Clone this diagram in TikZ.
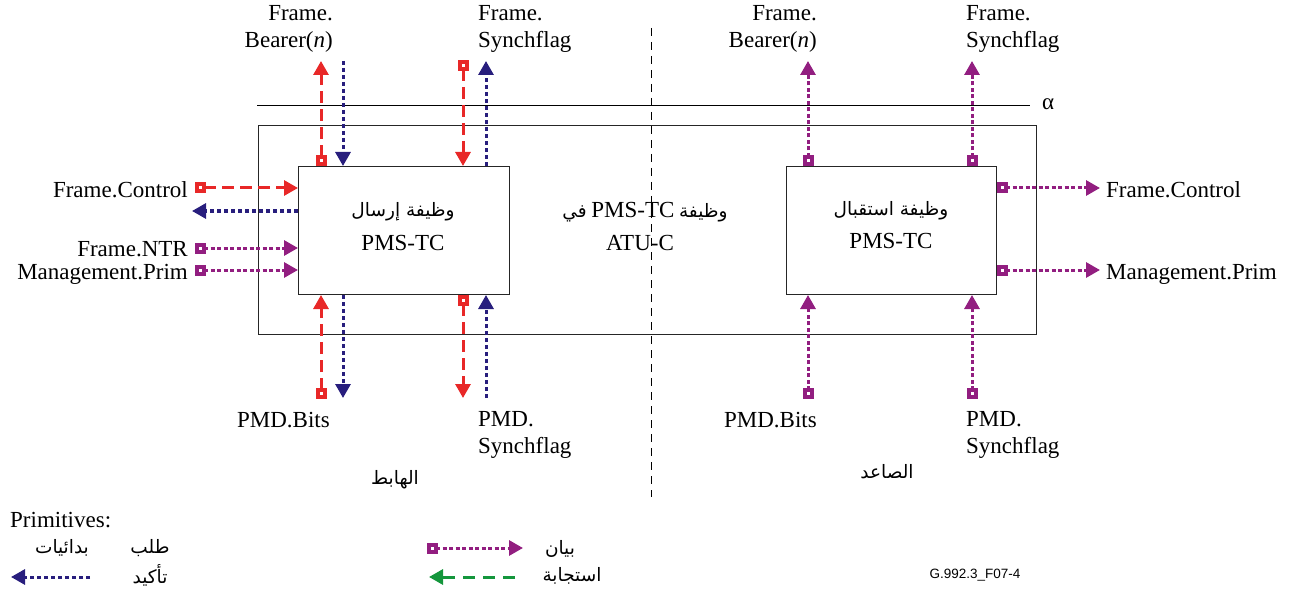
\documentclass[tikz,border=0pt]{standalone}
\usepackage{fontspec}
\setmainfont{Liberation Serif}
\newfontfamily\arabicfont[Script=Arabic]{DejaVu Sans}
\newfontfamily\figsans{Liberation Sans}
\TeXXeTstate=1
\usetikzlibrary{arrows.meta}

\definecolor{reqred}{RGB}{232,40,40}
\definecolor{cnfblue}{RGB}{40,30,125}
\definecolor{indpurple}{RGB}{146,30,128}
\definecolor{rspgreen}{RGB}{20,150,60}

\newcommand{\ar}[1]{{\arabicfont\beginR #1\endR}}

\tikzset{
  lbl/.style={font=\fontsize{23}{27}\selectfont, inner sep=0pt},
  arlbl/.style={font=\fontsize{18.5}{22}\selectfont, inner sep=0pt},
  fbox/.style={draw=black!85, line width=1pt, inner sep=0pt},
  sqtip/.tip={Square[open,length=11pt,width=11pt,line width=4pt,fill=white]},
  tritip/.tip={Triangle[length=14pt,width=15pt]},
  prim/.style={line width=3pt},
  req/.style={prim, draw=reqred, dash pattern=on 12pt off 6pt, sqtip-tritip},
  cnf/.style={prim, draw=cnfblue, dash pattern=on 4pt off 3pt, -tritip},
  ind/.style={prim, draw=indpurple, dash pattern=on 4pt off 2.5pt, sqtip-tritip},
  rsp/.style={prim, draw=rspgreen, dash pattern=on 12pt off 8pt, -tritip},
}

\begin{document}
\begin{tikzpicture}[x=1pt, y=-1pt]
\useasboundingbox (0,0) rectangle (1294,591);

% reference line alpha and the ATU-C frame
\coordinate (alphaL) at (257,106);
\coordinate (alphaR) at (1030,106);
\draw[line width=1pt] (alphaL) -- (alphaR);
\node[lbl, anchor=west] (alpha) at (1042,104) {α};

\node[fbox, anchor=north west, minimum width=778pt, minimum height=209pt] (atu) at (258,125) {};

% split between downstream and upstream
\coordinate (splitT) at (651,28);
\coordinate (splitB) at (651,497);
\draw[line width=1pt, dash pattern=on 8pt off 6pt] (splitT) -- (splitB);

% transmit and receive function blocks
\node[fbox, anchor=north west, minimum width=211pt, minimum height=128pt] (tx) at (298,166) {};
\node[fbox, anchor=north west, minimum width=210pt, minimum height=128pt] (rx) at (786,166) {};

\node[arlbl] (txA) at (403,212) {\ar{وظيفة إرسال}};
\node[lbl] (txB) at (403,243) {PMS-TC};
\node[arlbl] (ctrA) at (645,212) {\beginR{\arabicfont وظيفة} \beginL{\fontsize{23}{27}\selectfont PMS-TC}\endL{} {\arabicfont في}\endR};
\node[lbl] (ctrB) at (640,243) {ATU-C};
\node[arlbl] (rxA) at (891,211) {\ar{وظيفة استقبال}};
\node[lbl] (rxB) at (891,241) {PMS-TC};

% free ends of the primitives
\coordinate (ta) at (321,61);
\coordinate (tb) at (343,61);
\coordinate (tc) at (463,60);
\coordinate (td) at (486,61);
\coordinate (te) at (808,61);
\coordinate (tf) at (972,61);
\coordinate (ba) at (321,399);
\coordinate (bb) at (343,398);
\coordinate (bc) at (463,398);
\coordinate (bd) at (486,398);
\coordinate (be) at (808,399);
\coordinate (bf) at (972,399);
\coordinate (lA) at (195,188);
\coordinate (lB) at (192,211);
\coordinate (lC) at (195,248);
\coordinate (lD) at (195,270);
\coordinate (rA) at (1100,188);
\coordinate (rD) at (1100,270);

% transmit side, top
\draw[req] (tx.north -| ta) -- (ta);
\draw[cnf] (tb) -- (tx.north -| tb);
\draw[req] (tc) -- (tx.north -| tc);
\draw[cnf] (tx.north -| td) -- (td);
% transmit side, bottom
\draw[req] (ba) -- (tx.south -| ba);
\draw[cnf] (tx.south -| bb) -- (bb);
\draw[req] (tx.south -| bc) -- (bc);
\draw[cnf] (bd) -- (tx.south -| bd);
% transmit side, left
\draw[req] (lA) -- (tx.west |- lA);
\draw[cnf] (tx.west |- lB) -- (lB);
\draw[ind] (lC) -- (tx.west |- lC);
\draw[ind] (lD) -- (tx.west |- lD);

% receive side
\draw[ind] (rx.north -| te) -- (te);
\draw[ind] (rx.north -| tf) -- (tf);
\draw[ind] (be) -- (rx.south -| be);
\draw[ind] (bf) -- (rx.south -| bf);
\draw[ind] (rx.east |- rA) -- (rA);
\draw[ind] (rx.east |- rD) -- (rD);

% primitive names
\node[lbl, align=right, anchor=north east] (nBearerL) at (333,5) {Frame.\\Bearer(\textit{n})};
\node[lbl, align=left, anchor=north west] (nSyncL) at (478,5) {Frame.\\Synchflag};
\node[lbl, align=right, anchor=north east] (nBearerR) at (817,5) {Frame.\\Bearer(\textit{n})};
\node[lbl, align=left, anchor=north west] (nSyncR) at (966,5) {Frame.\\Synchflag};

\node[lbl, anchor=base east] (nCtrlL) at (188,197) {Frame.Control};
\node[lbl, anchor=base east] (nNTR) at (188,256) {Frame.NTR};
\node[lbl, anchor=base east] (nMgmtL) at (188,279) {Management.Prim};
\node[lbl, anchor=base west] (nCtrlR) at (1106,197) {Frame.Control};
\node[lbl, anchor=base west] (nMgmtR) at (1106,279) {Management.Prim};

\node[lbl, anchor=base east] (nBitsL) at (330,427) {PMD.Bits};
\node[lbl, align=left, anchor=north west] (nPSyncL) at (478,411) {PMD.\\Synchflag};
\node[lbl, anchor=base east] (nBitsR) at (817,427) {PMD.Bits};
\node[lbl, align=left, anchor=north west] (nPSyncR) at (966,411) {PMD.\\Synchflag};

\node[arlbl] (down) at (395,480) {\ar{الهابط}};
\node[arlbl] (up) at (887,472) {\ar{الصاعد}};

% legend
\node[lbl, anchor=base west] (legT) at (10,527) {Primitives:};
\node[arlbl] (legReq) at (150,548) {\ar{طلب}};
\node[arlbl] (legPrim) at (62,548) {\ar{بدائيات}};
\node[arlbl] (legCnf) at (150,575) {\ar{تأكيد}};
\node[arlbl] (legInd) at (560,549) {\ar{بيان}};
\node[arlbl] (legRsp) at (572,576) {\ar{استجابة}};

\coordinate (kCnfA) at (90,577);
\coordinate (kCnfB) at (11,577);
\coordinate (kIndA) at (427,548);
\coordinate (kIndB) at (523,548);
\coordinate (kRspA) at (515,577);
\coordinate (kRspB) at (429,577);
\draw[cnf] (kCnfA) -- (kCnfB);
\draw[ind] (kIndA) -- (kIndB);
\draw[rsp] (kRspA) -- (kRspB);

\node[inner sep=0pt, font=\figsans\fontsize{13.5}{16}\selectfont] (figid) at (975,575) {G.992.3\_F07-4};
\end{tikzpicture}
\end{document}
